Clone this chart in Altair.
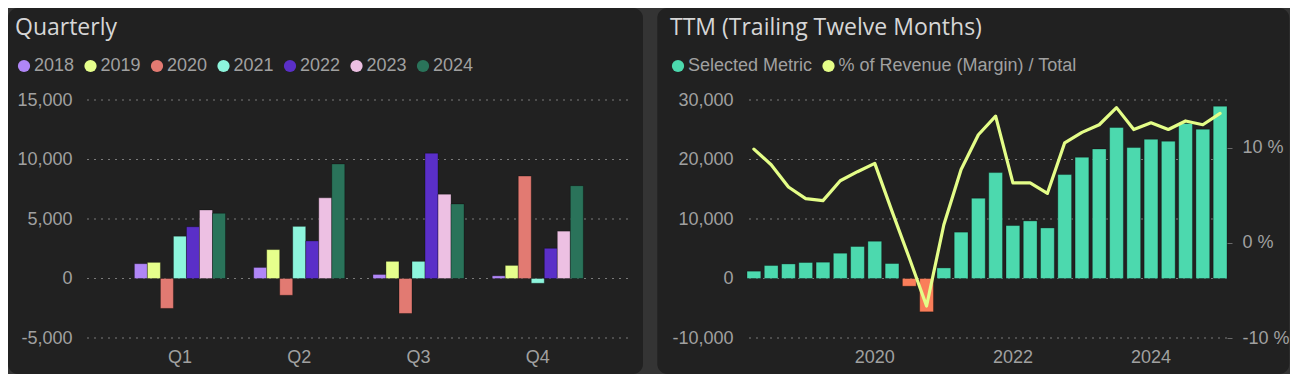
import altair as alt
import pandas as pd

# ---------------- data ----------------
quarters = ["Q1", "Q2", "Q3", "Q4"]
years = ["2018", "2019", "2020", "2021", "2022", "2023", "2024"]
year_colors = ["#b086f7", "#e6ff8c", "#e27a72", "#8df5dc", "#5a2fc8", "#edc0e3", "#2a735a"]
vals_2018 = [1245, 930, 340, 225]
vals_2019 = [1355, 2430, 1440, 1100]
vals_2020 = [-2515, -1410, -2940, 8610]
vals_2021 = [3560, 4380, 1440, -400]
vals_2022 = [4350, 3160, 10530, 2540]
vals_2023 = [5760, 6780, 7090, 3980]
vals_2024 = [5480, 9630, 6270, 7800]
left_ticks = [-5000, 0, 5000, 10000, 15000]

ttm_quarters = [f"{y} Q{q}" for y in range(2018, 2025) for q in range(1, 5)]
ttm_values = [1230, 2180, 2450, 2690, 2740, 4250, 5380, 6270, 2520, -1300, -5600, 1780,
              7790, 13500, 17800, 8900, 9680, 8500, 17470, 20380, 21780, 25380, 22010,
              23400, 23070, 26050, 25090, 28960]
margin_pct = [9.84, 8.2, 5.86, 4.64, 4.43, 6.52, 7.47, 8.34, 3.3, -1.6, -6.64, 1.9,
              7.7, 11.35, 13.3, 6.3, 6.3, 5.2, 10.5, 11.6, 12.4, 14.2, 11.9,
              12.6, 11.9, 12.8, 12.4, 13.6]
ttm_left_ticks = [-10000, 0, 10000, 20000, 30000]
ttm_right_ticks = [-10, 0, 10]
ttm_tick_quarters = ["2019 Q4", "2021 Q4", "2023 Q4"]
ttm_tick_labels = ["2020", "2022", "2024"]
legend_names = ["Selected Metric", "% of Revenue (Margin) / Total"]
left_title = "Quarterly"
right_title = "TTM (Trailing Twelve Months)"

# ---------------- styles ----------------
OUTER = "#343434"
PANEL = "#212121"
GRID = "#7a7a7a"
LABEL = "#a0a0a0"
TITLE = "#d6d6d6"
TEAL = "#4cd9ae"
ORANGE = "#fa7e5a"
YELLOW = "#e4fd88"
FONT = "Liberation Sans"

by_year = [vals_2018, vals_2019, vals_2020, vals_2021, vals_2022, vals_2023, vals_2024]
qdf = pd.DataFrame(
    [{"quarter": q, "year": y, "value": v}
     for y, vals in zip(years, by_year) for q, v in zip(quarters, vals)]
)
tdf = pd.DataFrame({"q": ttm_quarters, "ttm": ttm_values, "margin": margin_pct})


def make_legend(x, y, pad):
    return alt.Legend(title=None, orient="none", legendX=x, legendY=y,
                      direction="horizontal", symbolType="circle",
                      symbolSize=150, symbolStrokeWidth=0, symbolOpacity=1,
                      labelFont=FONT, labelFontSize=18, labelColor=LABEL,
                      labelOffset=1, columnPadding=pad, padding=0, zindex=1,
                      labelLimit=400)


# ---------------- left panel ----------------
W1, H = 542, 238
yscale_l = alt.Scale(domain=[left_ticks[0], left_ticks[-1]], nice=False)
yaxis_l = alt.Axis(values=left_ticks, title=None, grid=False, labelPadding=14, zindex=1,
                   labelExpr="replace(format(datum.value, ','), '\u2212', '-')")

bg_l = alt.Chart(alt.Data(values=[{"p": 1}])).mark_rect(fill=PANEL, cornerRadius=10).encode(
    x=alt.value(-78), x2=alt.value(557), y=alt.value(-92), y2=alt.value(274)
)
grid_l = alt.Chart(pd.DataFrame({"g": left_ticks})).mark_rule(
    color=GRID, strokeDash=[2, 5], strokeWidth=1.2
).encode(y=alt.Y("g:Q", scale=yscale_l, axis=yaxis_l))

bars_l = alt.Chart(qdf).mark_bar(stroke="#000", strokeOpacity=0.3, strokeWidth=1).encode(
    x=alt.X("quarter:N", sort=quarters,
            scale=alt.Scale(paddingInner=0.236, paddingOuter=0.39, align=0.52),
            axis=alt.Axis(title=None, labelAngle=0, labelPadding=10, zindex=1)),
    xOffset=alt.XOffset("year:N", sort=years, scale=alt.Scale(paddingInner=0, paddingOuter=0)),
    y=alt.Y("value:Q", scale=yscale_l, axis=yaxis_l),
    color=alt.Color("year:N", scale=alt.Scale(domain=years, range=year_colors),
                    legend=make_legend(-71, -43, 6.5)),
)
title_l = alt.Chart(alt.Data(values=[{"t": left_title}])).mark_text(
    align="left", baseline="alphabetic", font="Open Sans", fontSize=23, color=TITLE
).encode(x=alt.value(-71), y=alt.value(-65), text="t:N")

left = alt.layer(bg_l, grid_l, bars_l, title_l).properties(width=W1, height=H)

# ---------------- right panel ----------------
W2 = 480
yscale_r = alt.Scale(domain=[ttm_left_ticks[0], ttm_left_ticks[-1]], nice=False)
label_expr = "''"
for qq, lab in zip(reversed(ttm_tick_quarters), reversed(ttm_tick_labels)):
    label_expr = f"datum.value == '{qq}' ? '{lab}' : ({label_expr})"
xaxis_r = alt.Axis(values=ttm_tick_quarters, labelExpr=label_expr, title=None,
                   labelAngle=0, labelPadding=10, zindex=1)
xscale_r = alt.Scale(paddingInner=0.2, paddingOuter=0)

bg_r = alt.Chart(alt.Data(values=[{"p": 1}])).mark_rect(fill=PANEL, cornerRadius=10).encode(
    x=alt.value(-89.7), x2=alt.value(542.3), y=alt.value(-92), y2=alt.value(274)
)
grid_r = alt.Chart(pd.DataFrame({"g": ttm_left_ticks})).mark_rule(
    color=GRID, strokeDash=[2, 5], strokeWidth=1.2
).encode(y=alt.Y("g:Q", scale=yscale_r, axis=None))

bars_r = alt.Chart(tdf).mark_bar(stroke="#000", strokeOpacity=0.3, strokeWidth=1).encode(
    x=alt.X("q:N", sort=ttm_quarters, scale=xscale_r, axis=xaxis_r),
    y=alt.Y("ttm:Q", scale=yscale_r,
            axis=alt.Axis(values=ttm_left_ticks, title=None, grid=False, labelPadding=14,
                          orient="left", zindex=1,
                          labelExpr="replace(format(datum.value, ','), '\u2212', '-')")),
    color=alt.condition("datum.ttm < 0", alt.value(ORANGE), alt.value(TEAL)),
)
line_r = alt.Chart(tdf).mark_line(color=YELLOW, strokeWidth=3.2, strokeCap="round",
                                  strokeJoin="round").encode(
    x=alt.X("q:N", sort=ttm_quarters, scale=xscale_r, axis=xaxis_r),
    y=alt.Y("margin:Q", scale=alt.Scale(domain=[-10, 15], nice=False),
            axis=alt.Axis(orient="right", values=ttm_right_ticks, title=None, grid=False,
                          labelExpr="datum.value + ' %'", ticks=True, tickSize=5,
                          tickColor="#6a6a6a", labelPadding=10, zindex=1)),
)
legend_r = alt.Chart(pd.DataFrame({"s": legend_names})).mark_circle(size=0, opacity=1).encode(
    color=alt.Color("s:N", scale=alt.Scale(domain=legend_names, range=[TEAL, YELLOW]),
                    legend=make_legend(-78, -43, 6.5))
)
title_r = alt.Chart(alt.Data(values=[{"t": right_title}])).mark_text(
    align="left", baseline="alphabetic", font="Open Sans", fontSize=23, color=TITLE
).encode(x=alt.value(-77), y=alt.value(-65), text="t:N")

right = alt.layer(bg_r, grid_r, bars_r, line_r, legend_r, title_r).resolve_scale(
    y="independent"
).properties(width=W2, height=H)

chart = alt.hconcat(left, right, spacing=14).resolve_scale(
    color="independent"
).resolve_legend(color="independent").properties(
    background=OUTER, padding=0
).configure_axis(
    labelFont=FONT, labelFontSize=18, labelColor=LABEL, domain=False, ticks=False,
    tickSize=0
).configure_view(stroke=None)

chart.save("out.html", embed_options={"renderer": "svg", "actions": False})
